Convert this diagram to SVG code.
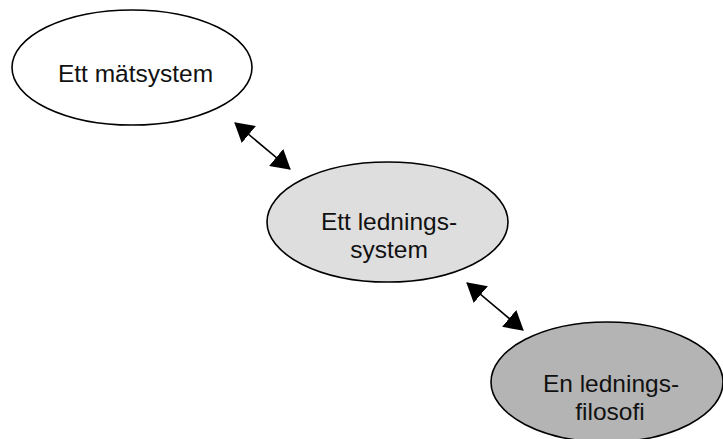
<svg xmlns="http://www.w3.org/2000/svg" width="723" height="439" viewBox="0 0 723 439">
  <style>
    .node { stroke: #000; stroke-width: 1.6; }
    .label { font-family: "Liberation Sans", Arial, sans-serif; font-size: 24.5px; fill: #111; text-anchor: middle; }
    .link { stroke: #000; stroke-width: 1.6; fill: none; marker-start: url(#head); marker-end: url(#head); }
  </style>
  <defs>
    <marker id="head" viewBox="0 0 19 22" refX="18" refY="11" markerWidth="19" markerHeight="22" markerUnits="userSpaceOnUse" orient="auto-start-reverse">
      <path d="M0,0 L19,11 L0,22 z" fill="#000"/>
    </marker>
  </defs>
  <rect width="723" height="439" fill="#fff"/>

  <g id="connectors">
    <line class="link" x1="235" y1="123" x2="290" y2="169"/>
    <line class="link" x1="467" y1="283" x2="523" y2="330"/>
  </g>

  <g id="matsystem">
    <ellipse class="node" cx="132" cy="67.5" rx="120" ry="57.5" fill="#fff"/>
    <text class="label" x="135.5" y="82">Ett mätsystem</text>
  </g>

  <g id="ledningssystem">
    <ellipse class="node" cx="387.5" cy="222" rx="120.5" ry="60" fill="#dedede"/>
    <text class="label" x="389" y="230">Ett lednings-</text>
    <text class="label" x="389" y="258">system</text>
  </g>

  <g id="ledningsfilosofi">
    <ellipse class="node" cx="607" cy="382" rx="116" ry="60" fill="#b4b4b4"/>
    <text class="label" x="611" y="392">En lednings-</text>
    <text class="label" x="610" y="420">filosofi</text>
  </g>
</svg>
